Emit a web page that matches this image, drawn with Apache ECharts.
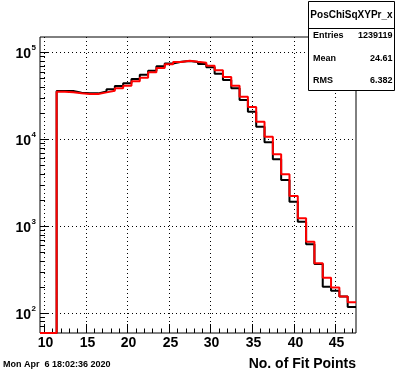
<!DOCTYPE html>
<html><head><meta charset="utf-8">
<script src="https://cdn.jsdelivr.net/npm/echarts@6/dist/echarts.min.js"></script>
<style>html,body{margin:0;padding:0;background:#fff}#c{width:396px;height:372px}</style>
</head><body><div id="c"></div>
<script>
// ---- data ----
const binCenters = [10,11,12,13,14,15,16,17,18,19,20,21,22,23,24,25,26,27,28,29,30,31,32,33,34,35,36,37,38,39,40,41,42,43,44,45,46,47];
const blackCounts = [0,0,35900,35900,34300,33700,33700,35500,37500,41000,44000,49300,55300,61500,69000,74500,78000,79500,77300,73300,67100,56800,48000,38500,28200,20700,13900,9200,5870,3390,1910,1125,620,367,201,181,155,117];
const redCounts   = [0,0,35200,34600,33700,33100,33100,34600,36200,38500,41300,46400,51100,58800,66000,73000,77300,80000,77700,76000,70200,62100,52000,41300,30900,23500,15900,10700,6700,3950,2220,1230,660,373,255,196,155,133];
const xMajorTicks = [10,15,20,25,30,35,40,45];
const xMinorTicks = [11,12,13,14,16,17,18,19,21,22,23,24,26,27,28,29,31,32,33,34,36,37,38,39,41,42,43,44,46,47];
const yDecades = [2,3,4,5];
const yMinorMultipliers = [2,3,4,5,6,7,8,9];
const statsTitle = 'PosChiSqXYPr_x';
const statsLabels = ['Entries','Mean','RMS'];
const statsValues = ['1239119','24.61','6.382'];
const dateText = 'Mon Apr  6 18:02:36 2020';
const xTitle = 'No. of Fit Points';

const X_MIN = 9.5, X_MAX = 47.5, Y_MIN = 58.9, Y_MAX = 150000;
const FONT = '"Liberation Sans", Arial, Helvetica, sans-serif';

function stepData(counts) {
  const pts = binCenters.map((c, i) => [c - 0.5, Math.max(counts[i], Y_MIN)]);
  const last = binCenters.length - 1;
  pts.push([binCenters[last] + 0.5, Math.max(counts[last], Y_MIN)]);
  return pts;
}

function renderAxes(params, api) {
  const ch = [];
  const p0 = api.coord([X_MIN, Y_MIN]), p1 = api.coord([X_MAX, Y_MAX]);
  const left = p0[0], bottom = p0[1], right = p1[0], top = p1[1];
  const dotted = {stroke: '#000', lineWidth: 1, lineDash: [1, 3], fill: null};
  const solid = {stroke: '#000', lineWidth: 1, fill: null};
  xMajorTicks.forEach(v => {
    const x = Math.round(api.coord([v, Y_MIN])[0]) + 0.5;
    ch.push({type: 'line', shape: {x1: x, y1: top, x2: x, y2: bottom}, style: dotted});
    ch.push({type: 'line', shape: {x1: x, y1: bottom, x2: x, y2: bottom - 9}, style: solid});
    ch.push({type: 'text', style: {text: String(v), x: x + 1, y: bottom + 10, align: 'center', verticalAlign: 'middle', font: 'bold 14px ' + FONT, fill: '#000'}});
  });
  xMinorTicks.forEach(v => {
    const x = Math.round(api.coord([v, Y_MIN])[0]) + 0.5;
    ch.push({type: 'line', shape: {x1: x, y1: bottom, x2: x, y2: bottom - 4.5}, style: solid});
  });
  const decs = [1].concat(yDecades);
  decs.forEach(k => {
    const base = Math.pow(10, k);
    if (base >= Y_MIN && base <= Y_MAX) {
      const y = Math.round(api.coord([X_MIN, base])[1]) + 0.5;
      ch.push({type: 'line', shape: {x1: left, y1: y, x2: right, y2: y}, style: dotted});
      ch.push({type: 'line', shape: {x1: left, y1: y, x2: left + 9, y2: y}, style: solid});
      ch.push({type: 'text', style: {text: '10', x: 31, y: y + 2, align: 'right', verticalAlign: 'middle', font: 'bold 14px ' + FONT, fill: '#000'}});
      ch.push({type: 'text', style: {text: String(k), x: 31.5, y: y - 4.5, align: 'left', verticalAlign: 'middle', font: 'bold 8px ' + FONT, fill: '#000'}});
    }
    yMinorMultipliers.forEach(m => {
      const v = m * base;
      if (v >= Y_MIN && v <= Y_MAX) {
        const y = Math.round(api.coord([X_MIN, v])[1]) + 0.5;
        ch.push({type: 'line', shape: {x1: left, y1: y, x2: left + 5, y2: y}, style: solid});
      }
    });
  });
  return {type: 'group', children: ch};
}

const chart = echarts.init(document.getElementById('c'), null, {renderer: 'canvas'});
chart.setOption({
  animation: false,
  backgroundColor: '#fff',
  grid: {left: 40, top: 37, width: 316, height: 296, show: true, borderColor: '#000', borderWidth: 1, backgroundColor: 'transparent'},
  xAxis: {type: 'value', min: X_MIN, max: X_MAX, show: false},
  yAxis: {type: 'log', min: Y_MIN, max: Y_MAX, show: false},
  series: [
    {type: 'custom', renderItem: renderAxes, data: [0], z: 1, silent: true, clip: false},
    {type: 'line', step: 'end', data: stepData(blackCounts), showSymbol: false, symbol: 'none', z: 2,
      lineStyle: {color: '#000', width: 2}, clip: false},
    {type: 'line', step: 'end', data: stepData(redCounts), showSymbol: false, symbol: 'none', z: 3,
      lineStyle: {color: '#ff0000', width: 2}, clip: false}
  ],
  graphic: [
    {type: 'rect', z: 100, shape: {x: 308.5, y: 1.5, width: 86, height: 89}, style: {fill: '#fff', stroke: '#000', lineWidth: 1}},
    {type: 'line', z: 101, shape: {x1: 308.5, y1: 28.5, x2: 394.5, y2: 28.5}, style: {stroke: '#000', lineWidth: 1}},
    {type: 'text', z: 101, x: 351.5, y: 15, style: {text: statsTitle, align: 'center', verticalAlign: 'middle', font: 'bold 10px ' + FONT, fill: '#000'}},
    ...statsLabels.map((t, i) => ({type: 'text', z: 101, x: 313, y: 36 + i * 22.2, style: {text: t, align: 'left', verticalAlign: 'middle', font: 'bold 9px ' + FONT, fill: '#000'}})),
    ...statsValues.map((t, i) => ({type: 'text', z: 101, x: 392.5, y: 36 + i * 22.2, style: {text: t, align: 'right', verticalAlign: 'middle', font: 'bold 9px ' + FONT, fill: '#000'}})),
    {type: 'text', z: 101, x: 3, y: 365, style: {text: dateText, align: 'left', verticalAlign: 'middle', font: 'bold 9px ' + FONT, fill: '#000'}},
    {type: 'text', z: 101, x: 356, y: 364, style: {text: xTitle, align: 'right', verticalAlign: 'middle', font: 'bold 14px ' + FONT, fill: '#000'}}
  ]
});
</script>
</body></html>
